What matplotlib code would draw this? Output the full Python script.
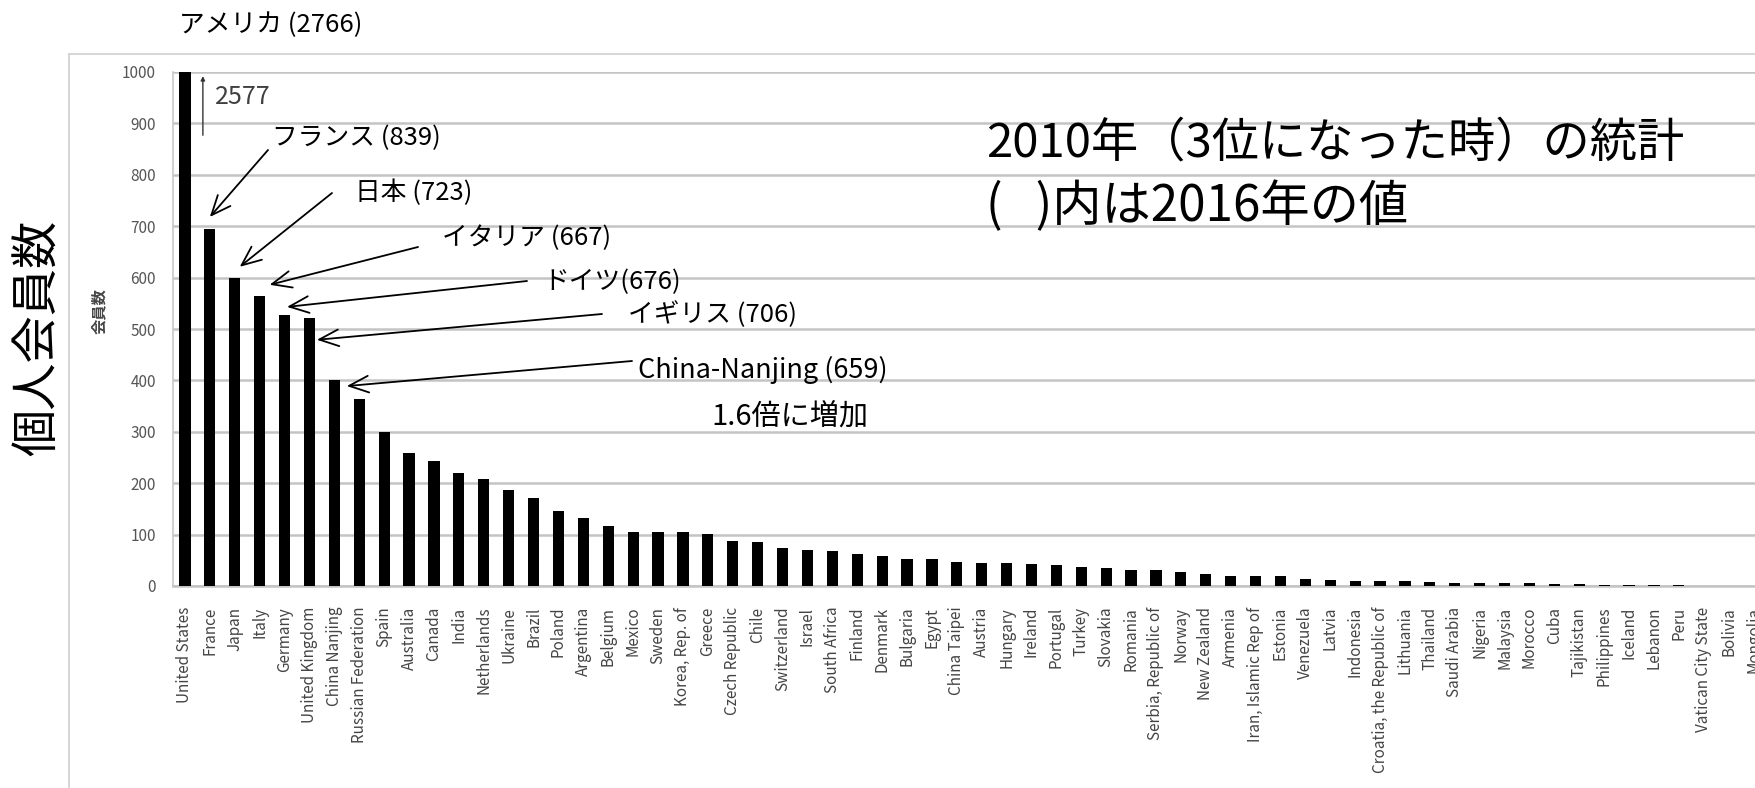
import numpy as np
import matplotlib
matplotlib.use("Agg")
import matplotlib.pyplot as plt
from matplotlib.lines import Line2D

plt.rcParams['font.family'] = ['Noto Sans CJK JP', 'DejaVu Sans']

# 2010 individual members by country (United States runs off the axis)
countries = [
    "United States", "France", "Japan", "Italy", "Germany", "United Kingdom",
    "China Nanjing", "Russian Federation", "Spain", "Australia", "Canada", "India",
    "Netherlands", "Ukraine", "Brazil", "Poland", "Argentina", "Belgium", "Mexico",
    "Sweden", "Korea, Rep. of", "Greece", "Czech Republic", "Chile", "Switzerland",
    "Israel", "South Africa", "Finland", "Denmark", "Bulgaria", "Egypt", "China Taipei",
    "Austria", "Hungary", "Ireland", "Portugal", "Turkey", "Slovakia", "Romania",
    "Serbia, Republic of", "Norway", "New Zealand", "Armenia", "Iran, Islamic Rep of",
    "Estonia", "Venezuela", "Latvia", "Indonesia", "Croatia, the Republic of",
    "Lithuania", "Thailand", "Saudi Arabia", "Nigeria", "Malaysia", "Morocco", "Cuba",
    "Tajikistan", "Philippines", "Iceland", "Lebanon", "Peru", "Vatican City State",
    "Bolivia", "Mongolia",
]
members_2010 = [
    2577, 694, 599, 564, 528, 521, 401, 364, 300, 259, 244, 219,
    208, 186, 171, 145, 133, 116, 106, 106, 105, 102, 88, 85, 74,
    71, 68, 63, 58, 52, 52, 46, 45, 45, 43, 40, 36, 35, 32,
    31, 28, 23, 20, 20, 20, 13, 12, 9, 9, 9, 8, 6, 5, 5, 5, 4,
    3, 2, 2, 2, 2, 0, 0, 0,
]

# callouts: label text (2016 value in brackets)
note_labels = ["フランス (839)", "日本 (723)", "イタリア (667)", "ドイツ(676)",
               "イギリス (706)", "China-Nanjing (659)"]

W, H = 1755, 788


def fp(x, y):
    # pixel position -> figure fraction
    return (x / W, 1 - y / H)


fig = plt.figure(figsize=(W / 100, H / 100), dpi=100)
ax = fig.add_axes([172.5 / W, 1 - 586 / H, (1766 - 172.5) / W, (586 - 72) / H])

x = np.arange(len(countries))
ax.bar(x, members_2010, width=0.45, color='black', zorder=3)
ax.set_xlim(-0.5, len(countries) - 0.5)
ax.set_ylim(0, 1000)
ax.set_yticks(np.arange(0, 1001, 100))
ax.yaxis.grid(True, color='#c4c4c4', lw=1.8)
ax.set_axisbelow(True)
ax.set_xticks(x)
ax.set_xticklabels(countries, rotation=90, va='top', ha='center',
                   fontsize=11, color='#444444')
for lab in ax.get_yticklabels():
    lab.set_fontsize(11)
    lab.set_color('#555555')
ax.tick_params(axis='x', length=0, pad=15)
ax.tick_params(axis='y', length=0, pad=12)
for side in ['top', 'right']:
    ax.spines[side].set_visible(False)
ax.spines['left'].set_color('#c8c8c8')
ax.spines['bottom'].set_color('#c4c4c4')
ax.spines['left'].set_linewidth(1.2)
ax.spines['bottom'].set_linewidth(1.8)

# outer frame of the pasted chart
fig.add_artist(Line2D([69 / W, 69 / W], [0, 1 - 54 / H], color='#d0d0d0', lw=1.2,
                      transform=fig.transFigure))
fig.add_artist(Line2D([69 / W, 1], [1 - 54 / H, 1 - 54 / H], color='#d0d0d0', lw=1.2,
                      transform=fig.transFigure))

# arrows to the bars
tips = [(1.0, 718), (2.2, 621), (3.4, 586), (4.1, 543), (5.3, 479), (6.5, 389)]
tails = [(268, 150), (332, 193), (418, 247), (527, 281), (602, 314), (632, 361)]
text_pos = [(272, 138), (355, 193), (442, 238), (543, 282), (628, 315), (638, 370)]
text_size = [18.5, 18.5, 18.5, 18.5, 18.5, 19.5]
for lab, tip, tail, tp, fs in zip(note_labels, tips, tails, text_pos, text_size):
    ax.annotate('', xy=tip, xycoords='data', xytext=fp(*tail),
                textcoords='figure fraction', annotation_clip=False,
                arrowprops=dict(arrowstyle='->,head_length=0.7,head_width=0.3',
                                lw=1.3, color='black', mutation_scale=20,
                                shrinkA=0, shrinkB=0))
    fig.text(*fp(*tp), lab, fontsize=fs, va='center', ha='left')

# US value marker
ax.annotate('', xy=(0.72, 992), xytext=(0.72, 877), annotation_clip=False,
            arrowprops=dict(arrowstyle='-|>', lw=1, color='#333333',
                            mutation_scale=6, shrinkA=0, shrinkB=0))
fig.text(*fp(215, 97), "2577", fontsize=18, va='center', ha='left', color='#404040')

fig.text(*fp(179, 25), "アメリカ (2766)", fontsize=18.5, va='center', ha='left')
fig.text(*fp(711, 417), "1.6倍に増加", fontsize=21, va='center', ha='left')
fig.text(*fp(986, 143), "2010年（3位になった時）の統計", fontsize=34,
         va='center', ha='left')
fig.text(*fp(986, 207), "(   )内は2016年の値", fontsize=35.5, va='center', ha='left')

fig.text(*fp(39, 338), "個人会員数", fontsize=34, rotation=90,
         va='center', ha='center')
fig.text(*fp(99, 311), "会員数", fontsize=11, rotation=90, va='center', ha='center',
         color='#444444', weight='bold')

fig.savefig("out.png", dpi=100)
